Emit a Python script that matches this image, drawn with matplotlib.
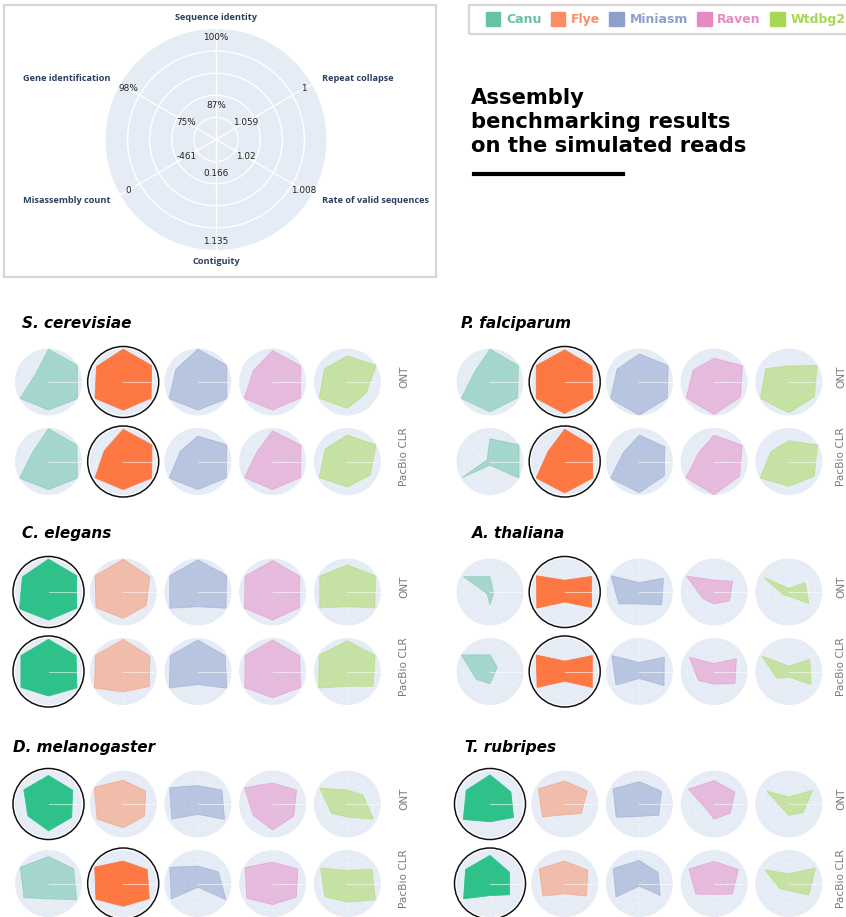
import numpy as np
import matplotlib
matplotlib.use("Agg")
import matplotlib.pyplot as plt
from matplotlib.patches import Rectangle, Circle, Patch
from matplotlib.lines import Line2D

# ---------------------------------------------------------------- data
CRITERIA = ["Sequence identity", "Repeat collapse", "Rate of valid sequences",
            "Contiguity", "Misassembly count", "Gene identification"]
KEY_INNER = ["87%", "1.059", "1.02", "0.166", "-461", "75%"]
KEY_OUTER = ["100%", "1", "1.008", "1.135", "0", "98%"]

ASSEMBLERS = ["Canu", "Flye", "Miniasm", "Raven", "Wtdbg2"]
COLORS = ["#66c2a5", "#fc8d62", "#8da0cb", "#e78ac3", "#a6d854"]
BEST_COLORS = {"Canu": "#2ec28a", "Flye": "#fd7842"}

ORGANISMS = ["S. cerevisiae", "P. falciparum", "C. elegans",
             "A. thaliana", "D. melanogaster", "T. rubripes"]
TECHS = ["ONT", "PacBio CLR"]

# normalised scores, one row per assembler, columns follow CRITERIA
S_CEREVISIAE_ONT = [[0.98, 1.00, 1.00, 0.84, 0.98, 0.45],
                    [0.98, 0.98, 0.96, 0.84, 0.97, 0.92],
                    [0.98, 1.00, 1.00, 0.84, 1.00, 0.76],
                    [0.94, 0.97, 0.96, 0.84, 0.98, 0.67],
                    [0.78, 1.00, 0.65, 0.79, 0.97, 0.79]]
S_CEREVISIAE_PACBIO = [[0.98, 0.98, 1.00, 0.84, 1.00, 0.55],
                       [0.96, 0.99, 0.98, 0.84, 0.97, 0.65],
                       [0.76, 1.00, 0.98, 0.84, 0.99, 0.61],
                       [0.92, 0.98, 0.96, 0.84, 0.97, 0.55],
                       [0.79, 0.99, 0.80, 0.76, 0.97, 0.76]]
P_FALCIPARUM_ONT = [[0.98, 0.98, 0.95, 0.89, 0.99, 0.55],
                    [0.96, 0.94, 0.97, 0.94, 0.98, 0.98],
                    [0.84, 0.99, 0.96, 0.99, 1.00, 0.77],
                    [0.71, 0.98, 0.91, 0.97, 0.96, 0.72],
                    [0.48, 0.98, 0.88, 0.92, 0.98, 0.80]]
P_FALCIPARUM_PACBIO = [[0.68, 1.00, 1.00, 0.11, 0.97, 0.10],
                       [0.96, 0.94, 0.97, 0.94, 0.98, 0.58],
                       [0.79, 0.88, 0.86, 0.93, 1.00, 0.55],
                       [0.79, 0.97, 0.88, 0.99, 0.97, 0.53],
                       [0.62, 0.99, 0.88, 0.74, 0.99, 0.61]]
C_ELEGANS_ONT = [[0.98, 0.97, 0.97, 0.84, 1.00, 0.90],
                 [0.98, 0.92, 0.80, 0.79, 0.94, 0.97],
                 [0.96, 0.99, 0.97, 0.44, 0.97, 0.97],
                 [0.94, 0.94, 0.93, 0.84, 0.97, 0.95],
                 [0.81, 0.97, 0.95, 0.44, 0.95, 0.95]]
C_ELEGANS_PACBIO = [[0.96, 0.95, 0.98, 0.73, 0.95, 0.95],
                    [0.96, 0.92, 0.90, 0.61, 0.99, 0.96],
                    [0.94, 0.94, 1.00, 0.39, 0.99, 0.95],
                    [0.94, 0.94, 0.96, 0.79, 0.96, 0.95],
                    [0.92, 0.96, 0.89, 0.44, 0.99, 0.97]]
A_THALIANA_ONT = [[0.46, 0.10, 0.12, 0.39, 0.10, 0.92],
                  [0.35, 0.93, 0.92, 0.30, 0.96, 0.97],
                  [0.28, 0.83, 0.77, 0.36, 0.71, 0.98],
                  [0.36, 0.64, 0.53, 0.36, 0.39, 0.95],
                  [0.11, 0.56, 0.69, 0.13, 0.18, 0.85]]
A_THALIANA_PACBIO = [[0.50, 0.25, 0.15, 0.37, 0.47, 0.99],
                     [0.31, 0.95, 0.95, 0.29, 0.95, 0.98],
                     [0.27, 0.86, 0.85, 0.21, 0.81, 0.95],
                     [0.24, 0.77, 0.72, 0.38, 0.54, 0.86],
                     [0.16, 0.72, 0.77, 0.17, 0.41, 0.93]]
D_MELANOGASTER_ONT = [[0.85, 0.83, 0.80, 0.80, 0.71, 0.85],
                      [0.71, 0.78, 0.73, 0.71, 0.90, 1.00],
                      [0.55, 0.83, 0.92, 0.31, 0.90, 0.98],
                      [0.63, 0.83, 0.73, 0.78, 0.67, 0.97],
                      [0.42, 0.54, 0.90, 0.39, 0.55, 0.94]]
D_MELANOGASTER_PACBIO = [[0.81, 0.87, 0.97, 0.46, 0.85, 0.97],
                         [0.67, 0.83, 0.90, 0.68, 0.94, 0.98],
                         [0.52, 0.70, 0.97, 0.11, 0.92, 0.97],
                         [0.64, 0.87, 0.82, 0.63, 0.89, 0.95],
                         [0.39, 0.85, 0.97, 0.56, 0.78, 0.92]]
T_RUBRIPES_ONT = [[0.87, 0.72, 0.81, 0.53, 0.92, 0.82],
                  [0.69, 0.78, 0.57, 0.32, 0.77, 0.91],
                  [0.67, 0.76, 0.67, 0.37, 0.80, 0.91],
                  [0.70, 0.72, 0.56, 0.45, 0.28, 0.89],
                  [0.21, 0.82, 0.50, 0.34, 0.23, 0.77]]
T_RUBRIPES_PACBIO = [[0.84, 0.67, 0.67, 0.36, 0.91, 0.84],
                     [0.67, 0.80, 0.75, 0.31, 0.75, 0.88],
                     [0.69, 0.65, 0.72, 0.08, 0.81, 0.90],
                     [0.66, 0.84, 0.63, 0.33, 0.63, 0.87],
                     [0.29, 0.92, 0.69, 0.21, 0.31, 0.82]]

SCORES_ONT = [S_CEREVISIAE_ONT, P_FALCIPARUM_ONT, C_ELEGANS_ONT,
              A_THALIANA_ONT, D_MELANOGASTER_ONT, T_RUBRIPES_ONT]
SCORES_PACBIO = [S_CEREVISIAE_PACBIO, P_FALCIPARUM_PACBIO, C_ELEGANS_PACBIO,
                 A_THALIANA_PACBIO, D_MELANOGASTER_PACBIO, T_RUBRIPES_PACBIO]
BEST_ONT = ["Flye", "Flye", "Canu", "Flye", "Canu", "Canu"]
BEST_PACBIO = ["Flye", "Flye", "Canu", "Flye", "Flye", "Canu"]

# ---------------------------------------------------------------- layout
W, H, DPI = 846, 917, 100
BG = "#e5ecf6"
THETA = np.radians(np.arange(6) * 60.0)

fig = plt.figure(figsize=(W / DPI, H / DPI), dpi=DPI, facecolor="white")


def fx(x):
    return x / W


def fy(y):
    return 1 - y / H


def radar_axes(cx, cy, r, grid_lw, grid_alpha):
    ax = fig.add_axes([fx(cx - r), fy(cy + r), 2 * r / W, 2 * r / H],
                      projection="polar")
    ax.set_theta_zero_location("N")
    ax.set_theta_direction(-1)
    ax.set_ylim(0, 1)
    ax.set_facecolor(BG)
    ax.spines["polar"].set_visible(False)
    ax.set_xticks(THETA)
    ax.set_yticks([0.2, 0.4, 0.6, 0.8])
    ax.tick_params(labelbottom=False, labelleft=False, length=0)
    ax.set_axisbelow(True)
    ax.grid(True, color="white", lw=grid_lw, alpha=grid_alpha)
    return ax


# key radar with the criteria and their value ranges
kax = radar_axes(216, 139.5, 110.5, 1.0, 1.0)
for th, name, lo, hi in zip(THETA, CRITERIA, KEY_INNER, KEY_OUTER):
    deg = np.degrees(th) % 360
    if deg < 1 or abs(deg - 180) < 1:
        ha = "center"
    elif deg < 180:
        ha = "left"
    else:
        ha = "right"
    kax.text(th, 1.105, name, ha=ha, va="center", fontsize=6.6,
             fontweight="bold", family="Open Sans", color="#2a3f5f",
             clip_on=False)
    kax.text(th, 0.31, lo, ha="center", va="center", fontsize=6.4,
             color="#222222")
    kax.text(th, 0.92, hi, ha="center", va="center", fontsize=6.4,
             color="#222222")

fig.add_artist(Rectangle((fx(4), fy(277)), fx(432), 272 / H,
                         transform=fig.transFigure, fill=False,
                         edgecolor="#d6d6d6", lw=1.6))

# legend
handles = [Patch(facecolor=c, edgecolor=c) for c in COLORS]
fig.legend(handles, ASSEMBLERS, loc="upper left",
           bbox_to_anchor=(fx(486), fy(12)), ncol=5, frameon=False,
           prop=dict(weight="bold", size=9), labelcolor=COLORS,
           handlelength=1.15, handleheight=1.3, handletextpad=0.45,
           columnspacing=0.75, borderpad=0, borderaxespad=0)
fig.add_artist(Rectangle((fx(469), fy(34)), fx(400), 29 / H,
                         transform=fig.transFigure, fill=False,
                         edgecolor="#d6d6d6", lw=1.6, clip_on=True))

# title block
fig.text(fx(471), fy(152), "Assembly\nbenchmarking results\non the simulated reads",
         ha="left", va="baseline", fontsize=15.2, fontweight="bold",
         linespacing=1.25, color="black")
fig.add_artist(Line2D([fx(474), fx(623)], [fy(174), fy(174)],
                      transform=fig.transFigure, color="black", lw=3))

# organism panels
COL_X0 = [48.5, 490]
COL_STEP = 74.7
ROW_Y0 = [382, 592, 804]
TECH_DY = 79.5
TITLE_X = [22, 461, 22, 472, 13, 465]
TITLE_Y = [328, 538, 752]
TECH_LABEL_X = [404, 841]
R_SMALL = 33.5

for k, org in enumerate(ORGANISMS):
    col, row = k % 2, k // 2
    fig.text(fx(TITLE_X[k]), fy(TITLE_Y[row]), org, ha="left",
             va="baseline", fontsize=11, fontweight="bold",
             fontstyle="italic", color="black")
    for t, (tech, scores, best) in enumerate(
            zip(TECHS, [SCORES_ONT[k], SCORES_PACBIO[k]],
                [BEST_ONT[k], BEST_PACBIO[k]])):
        cy = ROW_Y0[row] + t * TECH_DY
        fig.text(fx(TECH_LABEL_X[col]), fy(cy - 5), tech, rotation=90,
                 ha="center", va="center", fontsize=7.6, color="#7a7a7a")
        for a, (name, color, vals) in enumerate(zip(ASSEMBLERS, COLORS, scores)):
            cx = COL_X0[col] + a * COL_STEP
            ax = radar_axes(cx, cy, R_SMALL, 0.4, 0.4)
            th = np.append(THETA, THETA[0])
            rv = np.append(vals, vals[0])
            if name == best:
                ax.fill(th, rv, facecolor=BEST_COLORS[name],
                        edgecolor=BEST_COLORS[name], lw=0.6, zorder=2)
                ax.add_artist(Circle((0.5, 0.5), 0.53, transform=ax.transAxes,
                                     fill=False, edgecolor="#111111",
                                     lw=1.1, clip_on=False, zorder=5))
            else:
                ax.fill(th, rv, facecolor=color, edgecolor=color,
                        alpha=0.5, lw=0.6, zorder=2)
            ax.plot([np.pi / 2, np.pi / 2], [0, 1], color="white",
                    lw=0.8, alpha=0.55, zorder=3)

fig.savefig("out.png", dpi=DPI, facecolor="white")
